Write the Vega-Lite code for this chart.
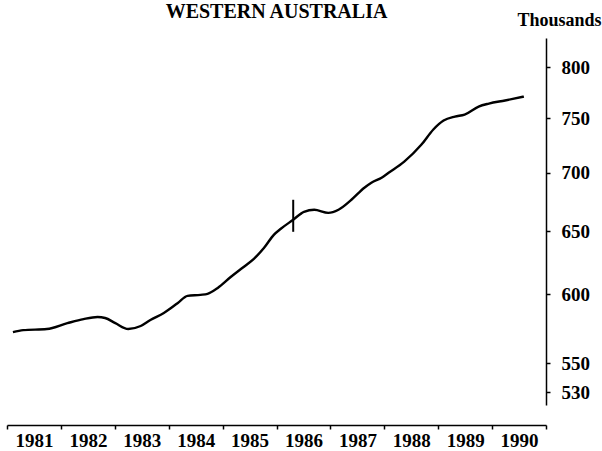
{
  "$schema": "https://vega.github.io/schema/vega-lite/v6.json",
  "autosize": {"type": "none"},
  "width": 539,
  "height": 367,
  "padding": {"left": 7, "top": 38, "right": 56, "bottom": 46},
  "background": "white",
  "title": {
    "text": "WESTERN AUSTRALIA",
    "font": "Liberation Serif",
    "fontSize": 20,
    "fontWeight": "bold",
    "color": "black",
    "anchor": "middle",
    "frame": "group",
    "baseline": "alphabetic",
    "offset": 4,
    "dy": 31
  },
  "config": {
    "view": {"stroke": null},
    "axis": {"grid": false, "domainColor": "black", "tickColor": "black", "labelColor": "black", "titleColor": "black", "labelFont": "Liberation Serif", "titleFont": "Liberation Serif", "labelFontWeight": "bold", "titleFontWeight": "bold"}
  },
  "datasets": {
    "series": [
      {"year": 1981.11, "value": 572.1},
      {"year": 1981.30, "value": 573.5},
      {"year": 1981.74, "value": 574.3},
      {"year": 1982.12, "value": 578.6},
      {"year": 1982.42, "value": 581.6},
      {"year": 1982.68, "value": 583.1},
      {"year": 1982.82, "value": 582.4},
      {"year": 1983.01, "value": 578.6},
      {"year": 1983.25, "value": 574.3},
      {"year": 1983.48, "value": 576.5},
      {"year": 1983.66, "value": 580.9},
      {"year": 1983.91, "value": 586.1},
      {"year": 1984.17, "value": 593.6},
      {"year": 1984.35, "value": 598.9},
      {"year": 1984.59, "value": 599.7},
      {"year": 1984.72, "value": 600.5},
      {"year": 1984.91, "value": 605.0},
      {"year": 1985.15, "value": 613.4},
      {"year": 1985.39, "value": 621.3},
      {"year": 1985.58, "value": 627.7},
      {"year": 1985.77, "value": 636.6},
      {"year": 1985.95, "value": 647.1},
      {"year": 1986.08, "value": 652.1},
      {"year": 1986.31, "value": 659.6},
      {"year": 1986.51, "value": 666.3},
      {"year": 1986.70, "value": 668.0},
      {"year": 1986.96, "value": 665.4},
      {"year": 1987.15, "value": 668.0},
      {"year": 1987.39, "value": 676.5},
      {"year": 1987.63, "value": 686.9},
      {"year": 1987.76, "value": 691.3},
      {"year": 1987.95, "value": 695.7},
      {"year": 1988.08, "value": 700.1},
      {"year": 1988.37, "value": 710.0},
      {"year": 1988.69, "value": 725.5},
      {"year": 1988.91, "value": 739.5},
      {"year": 1989.10, "value": 747.9},
      {"year": 1989.31, "value": 751.7},
      {"year": 1989.49, "value": 753.6},
      {"year": 1989.75, "value": 761.3},
      {"year": 1989.94, "value": 764.2},
      {"year": 1990.24, "value": 767.2},
      {"year": 1990.59, "value": 771.0}
    ],
    "marker": [
      {"year": 1986.31, "low": 649.6, "high": 676.5}
    ]
  },
  "layer": [
    {
      "data": {"name": "series"},
      "mark": {"type": "line", "color": "black", "strokeWidth": 2.4, "interpolate": "monotone"},
      "encoding": {
        "x": {
          "field": "year", "type": "quantitative",
          "scale": {"domain": [1981, 1991], "nice": false, "zero": false},
          "axis": {
            "orient": "bottom", "offset": 20, "title": null,
            "values": [1981, 1982, 1983, 1984, 1985, 1986, 1987, 1988, 1989, 1990, 1991],
            "labelExpr": "datum.value == 1991 ? '' : '' + datum.value",
            "labelOffset": 27, "labelFontSize": 19, "labelPadding": 2,
            "tickSize": 4, "domainWidth": 1.5, "tickWidth": 1.5, "labelFlush": false, "labelOverlap": false
          }
        },
        "y": {
          "field": "value", "type": "quantitative",
          "scale": {"type": "log", "domain": [521.6, 830.4], "nice": false, "zero": false},
          "axis": {
            "orient": "right", "title": "Thousands",
            "values": [530, 550, 600, 650, 700, 750, 800],
            "format": "d",
            "labelFontSize": 19, "labelPadding": 11, "tickSize": 4, "domainWidth": 1.5, "tickWidth": 1.5,
            "titleFontSize": 18, "titleAngle": 0, "titleAlign": "left", "titleBaseline": "alphabetic",
            "titleX": -29, "titleY": -13, "labelOverlap": false
          }
        }
      }
    },
    {
      "data": {"name": "marker"},
      "mark": {"type": "rule", "color": "black", "strokeWidth": 2},
      "encoding": {
        "x": {"field": "year", "type": "quantitative"},
        "y": {"field": "low", "type": "quantitative"},
        "y2": {"field": "high"}
      }
    }
  ]
}
